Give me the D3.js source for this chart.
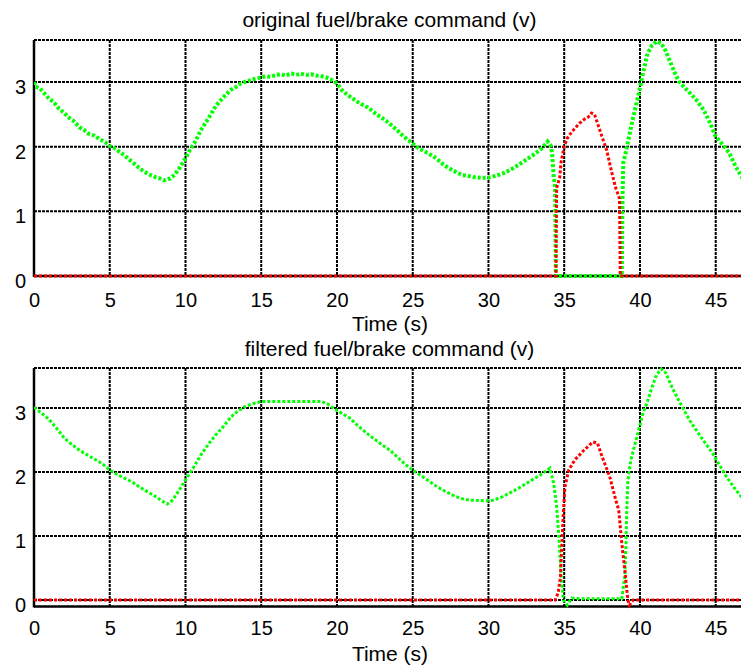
<!DOCTYPE html>
<html>
<head>
<meta charset="utf-8">
<script src="https://cdn.jsdelivr.net/npm/d3@7/dist/d3.min.js"></script>
<style>
  html, body { margin: 0; padding: 0; background: #fff; }
  svg { display: block; }
  text { font-family: "Liberation Sans", Arial, sans-serif; fill: #000; }
</style>
</head>
<body>
<svg id="chart" width="741" height="671"></svg>
<script>
// ---------- data ----------
const xTicks = [0, 5, 10, 15, 20, 25, 30, 35, 40, 45];
const yTicks = [0, 1, 2, 3];
const titles = ["original fuel/brake command (v)", "filtered fuel/brake command (v)"];
const xLabel = "Time (s)";

// original (top) fuel command, green  [time, volts]
const origFuel = [
  [0,3.00],[0.1,2.93],[0.4,2.90],[0.7,2.82],[1.0,2.74],[1.3,2.69],[1.6,2.60],[2.0,2.52],[2.3,2.45],[2.6,2.40],
  [3.0,2.30],[3.3,2.26],[3.6,2.20],[4.0,2.17],[4.3,2.12],[4.7,2.07],[5.0,2.01],[5.3,1.98],[5.7,1.91],[6.0,1.86],
  [6.3,1.80],[6.6,1.74],[7.0,1.66],[7.3,1.61],[7.6,1.57],[8.0,1.53],[8.3,1.51],[8.6,1.48],[9.0,1.51],[9.3,1.57],
  [9.6,1.67],[10.0,1.82],[10.3,1.95],[10.6,2.06],[11.0,2.25],[11.3,2.36],[11.6,2.47],[12.0,2.63],[12.3,2.71],[12.6,2.79],
  [13.0,2.88],[13.3,2.92],[13.6,2.97],[14.0,3.01],[14.3,3.03],[14.6,3.05],[15.0,3.07],[15.3,3.09],[15.6,3.08],[16.0,3.11],
  [16.3,3.12],[16.6,3.10],[17.0,3.13],[17.3,3.11],[17.6,3.13],[18.0,3.11],[18.3,3.12],[18.6,3.10],[19.0,3.09],[19.3,3.07],
  [19.6,3.04],[20.0,2.98],[20.3,2.88],[20.6,2.82],[21.0,2.75],[21.3,2.70],[21.6,2.66],[22.0,2.61],[22.3,2.56],[22.6,2.50],
  [23.0,2.44],[23.3,2.39],[23.6,2.33],[24.0,2.25],[24.3,2.18],[24.6,2.12],[25.0,2.05],[25.3,1.99],[25.6,1.95],[26.0,1.90],
  [26.3,1.86],[26.6,1.81],[27.0,1.73],[27.3,1.68],[27.6,1.64],[28.0,1.59],[28.3,1.56],[28.6,1.55],[29.0,1.53],[29.5,1.52],
  [30.0,1.52],[30.5,1.55],[31.0,1.59],[31.5,1.65],[32.0,1.72],[32.5,1.80],[33.0,1.88],[33.5,1.97],[33.9,2.08],[34.1,2.02],
  [34.2,1.90],[34.3,1.55],[34.4,1.38],[34.45,0],[38.8,0],[38.85,1.2],[38.9,1.75],[39.1,1.95],[39.5,2.40],[39.9,2.80],
  [40.2,3.14],[40.5,3.44],[40.8,3.57],[41.1,3.63],[41.4,3.60],[41.7,3.48],[42.0,3.31],[42.3,3.14],[42.6,3.00],[43.0,2.90],
  [43.3,2.83],[43.8,2.70],[44.2,2.57],[44.6,2.38],[45.0,2.16],[45.5,2.02],[45.9,1.90],[46.3,1.70],[46.8,1.50]
];
// original (top) brake command, red
const origBrake = [
  [0,0],[34.45,0],[34.5,1.36],[34.7,1.52],[34.8,1.77],[35.0,2.00],[35.2,2.13],[35.5,2.23],[36.0,2.36],[36.3,2.42],
  [36.6,2.46],[36.8,2.52],[37.0,2.50],[37.2,2.36],[37.5,2.15],[37.8,1.95],[38.1,1.64],[38.4,1.36],[38.65,1.20],[38.7,0],
  [46.8,0]
];
// filtered (bottom) fuel command, green
const filtFuel = [
  [0,3.01],[0.5,2.92],[1.0,2.82],[1.5,2.68],[2.0,2.53],[2.5,2.43],[3.0,2.34],[3.5,2.27],[4.0,2.20],[4.5,2.13],
  [5.0,2.03],[5.5,1.96],[6.0,1.90],[6.5,1.84],[7.0,1.76],[7.5,1.69],[8.0,1.62],[8.5,1.54],[8.8,1.50],[9.1,1.55],
  [9.4,1.65],[9.7,1.76],[10.0,1.88],[10.5,2.06],[11.0,2.26],[11.5,2.43],[12.0,2.58],[12.5,2.71],[13.0,2.86],[13.5,2.96],
  [14.0,3.03],[14.5,3.07],[15.0,3.10],[19.0,3.10],[19.4,3.06],[19.8,2.99],[20.3,2.92],[20.85,2.84],[21.4,2.72],[22.0,2.60],
  [22.5,2.51],[23.0,2.42],[23.5,2.34],[24.0,2.23],[24.5,2.12],[25.0,2.03],[25.5,1.95],[26.0,1.87],[26.6,1.77],[27.2,1.69],
  [27.8,1.62],[28.3,1.58],[28.8,1.56],[29.9,1.55],[30.3,1.56],[30.9,1.61],[31.4,1.67],[32.0,1.75],[32.7,1.85],[33.4,1.95],
  [34.05,2.06],[34.3,1.83],[34.5,1.46],[34.6,1.15],[34.7,0.78],[34.8,0.36],[34.95,0],[35.2,-0.08],[35.5,0.03],[36.0,0.02],
  [38.8,0.02],[39.0,0.36],[39.08,0.89],[39.13,1.40],[39.2,1.87],[39.4,2.19],[39.8,2.55],[40.2,2.92],[40.5,3.10],[40.8,3.33],
  [41.1,3.52],[41.4,3.61],[41.7,3.55],[42.2,3.28],[42.9,2.97],[43.3,2.80],[43.7,2.66],[44.2,2.49],[44.8,2.29],[45.2,2.13],
  [45.7,1.93],[46.2,1.76],[46.8,1.58]
];
// filtered (bottom) brake command, red
const filtBrake = [
  [0,0],[34.4,0],[34.6,0.11],[34.75,0.36],[34.85,0.89],[34.95,1.40],[35.05,1.77],[35.3,2.03],[35.7,2.19],[36.3,2.34],
  [36.9,2.47],[37.2,2.45],[37.5,2.24],[38.0,1.93],[38.35,1.61],[38.6,1.40],[38.8,0.89],[39.0,0.47],[39.2,0],[39.3,-0.08],
  [39.55,0],[46.8,0]
];

const panels = [
  { title: titles[0], fuel: origFuel, brake: origBrake, yDomain: [0, 3.65], top: 40, bottom: 276, gridY: [1, 2, 3] },
  { title: titles[1], fuel: filtFuel, brake: filtBrake, yDomain: [-0.1, 3.625], top: 368, bottom: 606.4, gridY: [0, 1, 2, 3] }
];

// ---------- drawing ----------
const svg = d3.select("#chart");
const left = 34, right = 746;
const x = d3.scaleLinear().domain([0, 47]).range([left, right]);

panels.forEach((p, i) => {
  const y = d3.scaleLinear().domain(p.yDomain).range([p.bottom, p.top]);
  const g = svg.append("g");

  const clipId = "clip" + i;
  svg.append("clipPath").attr("id", clipId)
    .append("rect").attr("x", left).attr("y", p.top - 3).attr("width", right - left).attr("height", p.bottom - p.top + 6);

  // grid
  g.append("g").selectAll("line").data(xTicks.filter(d => d > 0)).join("line")
    .attr("x1", d => x(d)).attr("x2", d => x(d)).attr("y1", p.top).attr("y2", p.bottom)
    .attr("stroke", "#000").attr("stroke-width", 2).attr("stroke-dasharray", "3,1");
  g.append("g").selectAll("line").data(p.gridY).join("line")
    .attr("x1", left).attr("x2", right).attr("y1", d => y(d)).attr("y2", d => y(d))
    .attr("stroke", "#000").attr("stroke-width", 2).attr("stroke-dasharray", "3,1");
  // top border (dotted like the grid)
  g.append("line").attr("x1", left).attr("x2", right).attr("y1", p.top).attr("y2", p.top)
    .attr("stroke", "#000").attr("stroke-width", 2).attr("stroke-dasharray", "3,1");
  // left & bottom solid border
  g.append("line").attr("x1", left).attr("x2", left).attr("y1", p.top).attr("y2", p.bottom + 1)
    .attr("stroke", "#000").attr("stroke-width", 2.5);
  g.append("line").attr("x1", left).attr("x2", right).attr("y1", p.bottom).attr("y2", p.bottom)
    .attr("stroke", "#000").attr("stroke-width", 2.5);

  // axes labels via d3 axes (ticks hidden, labels only)
  const xAxis = d3.axisBottom(x).tickValues(xTicks).tickSize(0).tickPadding(0).tickFormat(d3.format("d"));
  const xa = g.append("g").attr("transform", `translate(0,${p.bottom})`).call(xAxis);
  xa.select(".domain").remove();
  xa.selectAll("text").attr("dy", null).attr("y", i === 0 ? 30.5 : 28.6)
    .style("font-size", "20px").style("font-family", "'Liberation Sans', Arial, sans-serif").attr("fill", "#000");

  const yAxis = d3.axisLeft(y).tickValues(yTicks).tickSize(0).tickPadding(0).tickFormat(d3.format("d"));
  const ya = g.append("g").attr("transform", `translate(26,0)`).call(yAxis);
  ya.select(".domain").remove();
  ya.selectAll("text").attr("dy", null).attr("x", 0).attr("y", 11.5)
    .style("font-size", "20px").style("font-family", "'Liberation Sans', Arial, sans-serif").attr("fill", "#000");

  // data lines
  const line = d3.line().x(d => x(d[0])).y(d => y(d[1]));
  const lines = g.append("g").attr("clip-path", `url(#${clipId})`);
  lines.append("path").datum(p.fuel).attr("d", line)
    .attr("fill", "none").attr("stroke", "#00ff00").attr("stroke-width", i === 0 ? 4 : 3)
    .attr("stroke-dasharray", "3,2");
  lines.append("path").datum(p.brake).attr("d", line)
    .attr("fill", "none").attr("stroke", "#ff0000").attr("stroke-width", 3)
    .attr("stroke-dasharray", "3,2");

  // title and x label
  svg.append("text").attr("x", 389.5).attr("y", i === 0 ? 27 : 356)
    .attr("text-anchor", "middle").style("font-size", "21px").text(p.title);
  svg.append("text").attr("x", 390).attr("y", i === 0 ? 331 : 661)
    .attr("text-anchor", "middle").style("font-size", "21px").text(xLabel);
});
</script>
</body>
</html>
